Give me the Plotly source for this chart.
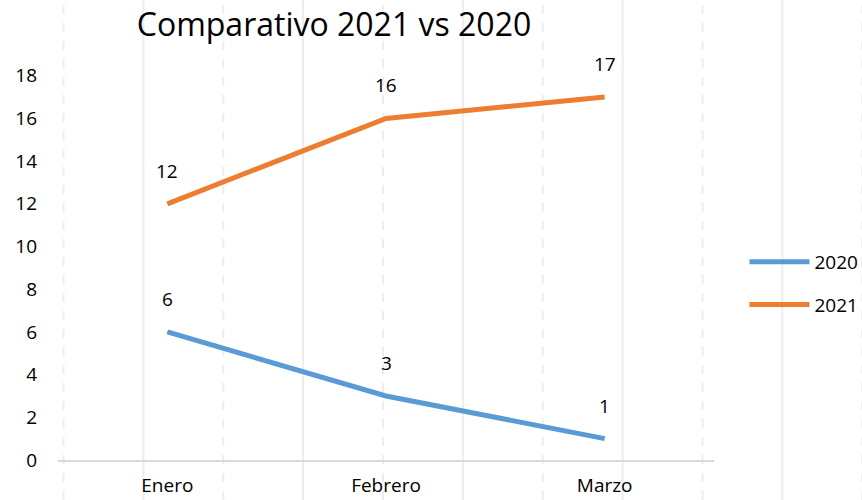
import plotly.graph_objects as go

months = ["Enero", "Febrero", "Marzo"]
series_names = ["2020", "2021"]
values_2020 = [6, 3, 1]
values_2021 = [12, 16, 17]
y_ticks = [0, 2, 4, 6, 8, 10, 12, 14, 16, 18]

colors = {"2020": "#5B9BD5", "2021": "#ED7D31"}
FONT = "Open Sans"
FS = 19
W, H = 862, 500
ML, MR, MT, MB = 57.5, 147.5, 33, 40
PW, PH = W - ML - MR, H - MT - MB

fig = go.Figure()
for name, vals in zip(series_names, [values_2020, values_2021]):
    fig.add_trace(go.Scatter(
        x=months, y=vals, name=name, mode="lines",
        line=dict(color=colors[name], width=5),
        legendgroup=name,
    ))
    for m, v in zip(months, vals):
        fig.add_annotation(x=m, y=v, text=str(v), showarrow=False, yshift=33,
                           font=dict(family=FONT, size=FS, color="#000000"))

# background page grid lines (decoration)
shapes = []
for i in range(11):
    px = 63 + 80 * i
    xp = (px - ML) / PW
    shapes.append(dict(type="line", xref="paper", yref="paper", x0=xp, x1=xp,
                       y0=(MT + PH - H) / PH, y1=(MT + PH) / PH, layer="below",
                       line=dict(color="#EDEDED", width=2,
                                 dash="dash" if i % 2 == 0 else "solid")))

fig.update_layout(
    width=W, height=H,
    margin=dict(l=ML, r=MR, t=MT, b=MB, autoexpand=False),
    paper_bgcolor="white", plot_bgcolor="rgba(0,0,0,0)",
    font=dict(family=FONT, size=FS, color="#000000"),
    title=dict(text="Comparativo 2021 vs 2020", x=334 / W, xanchor="center",
               y=1 - 25 / H, yanchor="middle", yref="container",
               font=dict(family=FONT, size=32, color="#000000")),
    shapes=shapes,
    legend=dict(x=(745 - ML) / PW, xanchor="left", y=(MT + PH - 243) / PH, yanchor="top",
                font=dict(family=FONT, size=FS), tracegroupgap=15, itemwidth=60,
                bgcolor="rgba(0,0,0,0)"),
    xaxis=dict(range=[-0.5, 2.5], showgrid=False, showline=True, linecolor="#D9D9D9",
               linewidth=2, ticks="", ticklabelstandoff=7, zeroline=False,
               automargin=False, tickfont=dict(family=FONT, size=FS)),
    yaxis=dict(range=[0, 20], tickvals=y_ticks, showgrid=False, zeroline=False,
               showline=False, ticks="", ticklabelstandoff=20, automargin=False,
               tickfont=dict(family=FONT, size=FS)),
)

fig.write_html("out.html", config={"displayModeBar": False},
               post_script="document.body.style.margin='0';")
